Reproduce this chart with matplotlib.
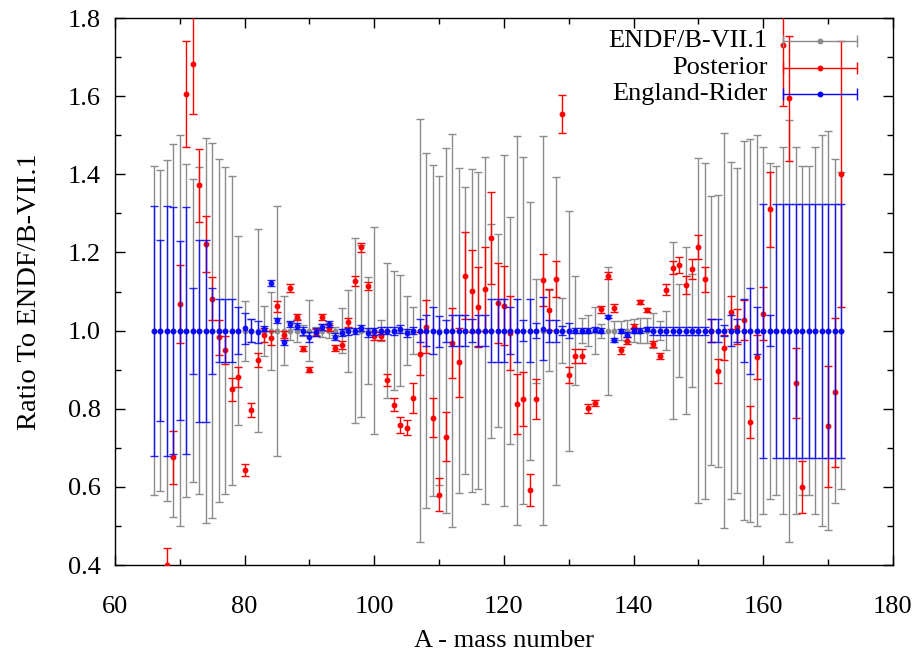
"""Ratio of ENDF/B-VII.1, posterior and England-Rider values to ENDF/B-VII.1"""

import numpy as np
import matplotlib
matplotlib.use("Agg")
import matplotlib.pyplot as plt

nan = np.nan

# mass numbers 66 .. 172
mass = np.arange(66, 173)

# ENDF/B-VII.1 relative uncertainties (the ratio itself is 1)
endf_err = [
    0.42, 0.41, 0.437, 0.478, 0.50, 0.427, 0.388, 0.418, 0.492, 0.479,
    0.439, 0.418, 0.395, 0.241, 0.077, 0.03, 0.26, 0.064, 0.10, 0.32,
    0.089, 0.023, 0.03, 0.014, 0.078, 0.01, 0.017, 0.02, 0.01, 0.057,
    0.105, 0.237, 0.22, 0.136, 0.264, 0.027, 0.172, 0.152, 0.143, 0.088,
    0.061, 0.542, 0.455, 0.423, 0.395, 0.467, 0.502, 0.416, 0.368, 0.414,
    0.406, 0.444, 0.274, 0.246, 0.45, 0.29, 0.498, 0.444, 0.33, 0.133,
    0.498, 0.104, 0.394, 0.083, 0.307, 0.14, 0.032, 0.04, 0.06, 0.018,
    0.164, 0.025, 0.024, 0.027, 0.03, 0.032, 0.033, 0.045, 0.025, 0.05,
    0.226, 0.12, 0.214, 0.144, 0.441, 0.43, 0.344, 0.348, 0.505, 0.432,
    0.416, 0.485, 0.49, 0.50, 0.47, 0.43, 0.42, 0.47, 0.54, 0.47,
    0.42, 0.42, 0.47, 0.50, 0.51, 0.44, 0.405,
]

# posterior ratio and uncertainty
post_val = [
    nan, nan, 0.401, 0.676, 1.067, 1.605, 1.682, 1.372, 1.221, 1.082,
    0.983, 0.951, 0.850, 0.882, 0.643, 0.797, 0.925, 0.989, 0.980, 1.062,
    0.990, 1.108, 1.035, 0.954, 0.900, 0.995, 1.035, 1.007, 0.956, 0.964,
    1.021, 1.126, 1.213, 1.115, 0.986, 0.986, 0.874, 0.810, 0.759, 0.752,
    0.828, 0.941, 1.010, 0.777, 0.580, 0.728, 0.968, 0.919, 1.141, 1.101,
    1.061, 1.106, 1.237, 1.071, 1.064, 0.994, 0.812, 0.824, 0.592, 0.825,
    1.130, 1.054, 1.132, 1.555, 0.886, 0.935, 0.935, 0.801, 0.814, 1.055,
    1.141, 1.057, 0.950, 0.974, 1.010, 1.073, 1.053, 0.965, 0.935, 1.104,
    1.161, 1.168, 1.116, 1.157, 1.214, 1.131, 1.000, 0.897, 0.956, 1.047,
    1.010, 1.027, 0.765, 0.933, 1.043, 1.310, nan, 1.730, 1.595, 0.866,
    0.600, nan, nan, nan, 0.755, 0.842, 1.400,
]
post_err = [
    nan, nan, 0.042, 0.068, 0.10, 0.136, 0.128, 0.093, 0.072, 0.056,
    0.045, 0.036, 0.029, 0.026, 0.016, 0.018, 0.018, 0.017, 0.018, 0.015,
    0.010, 0.010, 0.008, 0.007, 0.006, 0.010, 0.008, 0.008, 0.007, 0.010,
    0.012, 0.013, 0.012, 0.010, 0.010, 0.010, 0.015, 0.017, 0.021, 0.020,
    0.039, 0.055, 0.068, 0.050, 0.042, 0.063, 0.090, 0.088, 0.111, 0.105,
    0.102, 0.108, 0.118, 0.103, 0.102, 0.094, 0.076, 0.069, 0.040, 0.050,
    0.067, 0.052, 0.045, 0.048, 0.021, 0.018, 0.017, 0.011, 0.008, 0.009,
    0.009, 0.010, 0.009, 0.009, 0.007, 0.006, 0.006, 0.008, 0.008, 0.014,
    0.017, 0.020, 0.023, 0.026, 0.031, 0.032, 0.030, 0.030, 0.032, 0.042,
    0.045, 0.051, 0.041, 0.056, 0.068, 0.095, nan, 0.155, 0.160, 0.090,
    0.066, nan, nan, nan, 0.155, 0.190, 0.340,
]

# England-Rider ratio and uncertainty
er_val = [
    1.0, 1.0, 1.0, 1.0, 1.0, 1.0, 1.0, 1.0, 1.0, 1.0,
    1.0, 1.0, 1.0, 1.0, 1.006, 1.0, 0.997, 1.005, 1.121, 1.026,
    0.970, 1.016, 1.012, 0.998, 0.984, 0.997, 1.010, 1.017, 0.984, 0.995,
    0.998, 0.999, 1.006, 0.995, 0.998, 1.0, 1.0, 1.0, 1.005, 0.994,
    1.0, 1.0, 1.0, 1.0, 0.997, 1.0, 1.0, 1.0, 1.0, 1.0,
    1.0, 1.0, 1.0, 1.0, 1.0, 1.0, 1.0, 1.0, 1.0, 1.0,
    1.005, 1.0, 1.0, 1.0, 1.0, 1.0, 1.0, 1.0, 1.002, 1.0,
    1.036, 0.976, 1.0, 0.990, 1.0, 1.0, 1.004, 1.0, 1.0, 1.0,
    1.0, 1.0, 1.0, 1.0, 1.0, 1.0, 1.0, 1.0, 1.0, 1.0,
    1.0, 1.0, 1.0, 1.0, 1.0, 1.0, 1.0, 1.0, 1.0, 1.0,
    1.0, 1.0, 1.0, 1.0, 1.0, 1.0, 1.0,
]
er_err = [
    0.32, 0.232, 0.32, 0.317, 0.23, 0.317, 0.11, 0.233, 0.233, 0.11,
    0.081, 0.081, 0.08, 0.06, 0.04, 0.03, 0.028, 0.006, 0.008, 0.006,
    0.006, 0.008, 0.008, 0.01, 0.012, 0.01, 0.008, 0.008, 0.009, 0.008,
    0.008, 0.008, 0.008, 0.012, 0.008, 0.008, 0.008, 0.01, 0.01, 0.01,
    0.008, 0.03, 0.04, 0.06, 0.04, 0.028, 0.039, 0.039, 0.039, 0.03,
    0.039, 0.039, 0.081, 0.081, 0.081, 0.061, 0.08, 0.027, 0.08, 0.02,
    0.08, 0.028, 0.028, 0.012, 0.02, 0.006, 0.006, 0.006, 0.006, 0.006,
    0.005, 0.005, 0.005, 0.006, 0.006, 0.006, 0.006, 0.01, 0.01, 0.01,
    0.01, 0.01, 0.01, 0.01, 0.01, 0.01, 0.03, 0.03, 0.015, 0.04,
    0.03, 0.08, 0.11, 0.06, 0.325, 0.04, 0.325, 0.325, 0.325, 0.325,
    0.325, 0.325, 0.325, 0.325, 0.325, 0.325, 0.325,
]

labels = ["ENDF/B-VII.1", "Posterior", "England-Rider"]
colors = ["#8c8c8c", "#ff0000", "#0000ff"]

plt.rcParams["font.family"] = ["Liberation Serif", "DejaVu Serif"]
FS = 19

fig = plt.figure(figsize=(9.17, 6.53), dpi=100)
ax = fig.add_axes([0.1254, 0.1347, 0.8484, 0.8377])

style = dict(fmt="o", markersize=3.2, capsize=3.2, elinewidth=1.0,
             capthick=1.0, linestyle="none")

ax.errorbar(mass, np.ones(len(mass)), yerr=endf_err, color=colors[0],
            zorder=2, **style)
ax.errorbar(mass, post_val, yerr=post_err, color=colors[1], zorder=3,
            **style)
ax.errorbar(mass, er_val, yerr=er_err, color=colors[2], zorder=4,
            alpha=0.85, **style)

ax.set_xlim(60, 180)
ax.set_ylim(0.4, 1.8)
ax.set_xticks(np.arange(60, 181, 20))
ax.set_xticks(np.arange(60, 181, 10), minor=True)
ax.set_yticks(np.arange(0.4, 1.81, 0.2))
ax.set_yticks(np.arange(0.4, 1.81, 0.1), minor=True)
ax.yaxis.set_major_formatter(matplotlib.ticker.FormatStrFormatter("%.1f"))
ax.tick_params(which="both", direction="in", top=True, right=True,
               labelsize=FS, width=1.0)
ax.tick_params(which="major", length=7)
ax.tick_params(which="minor", length=4)
ax.tick_params(axis="x", which="major", pad=22)
ax.tick_params(axis="y", which="major", pad=10)
for spine in ax.spines.values():
    spine.set_linewidth(1.0)

ax.set_xlabel("A - mass number", fontsize=FS, labelpad=9)
ax.set_ylabel("Ratio To ENDF/B-VII.1", fontsize=20.5, labelpad=19)

# gnuplot style key: right aligned text and a horizontal error bar sample
for ii, (label, color) in enumerate(zip(labels, colors)):
    yk = 0.958 - ii * 0.0485
    ax.text(0.839, yk, label, transform=ax.transAxes, ha="right",
            va="center", fontsize=FS)
    ax.plot([0.859, 0.954], [yk, yk], color=color, lw=1.0,
            transform=ax.transAxes, clip_on=False, zorder=6)
    ax.plot([0.859, 0.954], [yk, yk], color=color, lw=0, marker="|",
            markersize=8, mew=1.0, transform=ax.transAxes, clip_on=False,
            zorder=6)
    ax.plot([0.9065], [yk], color=color, marker="o", markersize=3.2,
            transform=ax.transAxes, clip_on=False, zorder=6)

fig.savefig("out.png", dpi=100)
